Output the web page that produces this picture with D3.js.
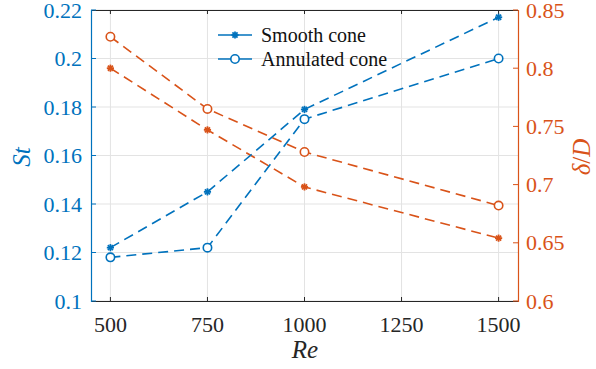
<!DOCTYPE html>
<html><head><meta charset="utf-8">
<script src="https://cdn.jsdelivr.net/npm/d3@7"></script>
<style>body{margin:0;background:#fff}svg{display:block}</style>
</head><body>
<div style="font-family:'Liberation Serif',serif">
<svg id="c" width="596" height="369"></svg>
</div>
<script>
const reValues = [500, 750, 1000, 1500];
const stSmooth = [0.122, 0.145, 0.179, 0.217];
const stAnnulated = [0.118, 0.122, 0.175, 0.200];
const dSmooth = [0.800, 0.747, 0.698, 0.654];
const dAnnulated = [0.827, 0.765, 0.728, 0.682];
const xTicks = [500, 750, 1000, 1250, 1500];
const stTicks = [0.1, 0.12, 0.14, 0.16, 0.18, 0.2, 0.22];
const dTicks = [0.6, 0.65, 0.7, 0.75, 0.8, 0.85];
const legendLabels = ["Smooth cone", "Annulated cone"];

const blue = "#0072BD", orange = "#D95319";
const svg = d3.select("#c");
const L = 91, R = 518, T = 10, B = 301;
const x = d3.scaleLinear().domain([450, 1550]).range([L, R]);
const yL = d3.scaleLinear().domain([0.1, 0.22]).range([B, T]);
const yR = d3.scaleLinear().domain([0.6, 0.85]).range([B, T]);

function txt(px, py, s, size, color, anchor, italic) {
  const t = svg.append("text").attr("x", px).attr("y", py)
    .attr("fill", color).attr("text-anchor", anchor)
    .attr("style", `font-family:'Liberation Serif','Times New Roman',Tinos,serif;font-size:${size}px` + (italic ? ";font-style:italic" : ""));
  t.text(s);
  return t;
}

// grid
svg.selectAll(".gx").data(xTicks).join("line")
  .attr("x1", d => x(d)).attr("x2", d => x(d)).attr("y1", T).attr("y2", B)
  .attr("stroke", "#e3e3e3").attr("stroke-width", 1);
svg.selectAll(".gy").data(stTicks).join("line")
  .attr("x1", L).attr("x2", R).attr("y1", d => yL(d)).attr("y2", d => yL(d))
  .attr("stroke", "#e3e3e3").attr("stroke-width", 1);

// frame top/bottom
svg.append("line").attr("x1", L).attr("x2", R).attr("y1", T + 0.5).attr("y2", T + 0.5).attr("stroke", "#262626");
svg.append("line").attr("x1", L).attr("x2", R).attr("y1", B + 0.5).attr("y2", B + 0.5).attr("stroke", "#262626");

// x axis ticks
xTicks.forEach(d => {
  svg.append("line").attr("x1", x(d)).attr("x2", x(d)).attr("y1", B).attr("y2", B - 4).attr("stroke", "#262626");
  svg.append("line").attr("x1", x(d)).attr("x2", x(d)).attr("y1", T).attr("y2", T + 4).attr("stroke", "#262626");
  txt(x(d), 332, String(d), 22, "#262626", "middle");
});

// left axis
svg.append("line").attr("x1", L + 0.5).attr("x2", L + 0.5).attr("y1", T).attr("y2", B + 1).attr("stroke", blue).attr("stroke-width", 1.2);
stTicks.forEach(d => {
  svg.append("line").attr("x1", L).attr("x2", L + 5).attr("y1", yL(d)).attr("y2", yL(d)).attr("stroke", blue);
  txt(82, yL(d) + 7.5, String(d), 22, blue, "end");
});

// right axis
svg.append("line").attr("x1", R + 0.5).attr("x2", R + 0.5).attr("y1", T).attr("y2", B + 1).attr("stroke", orange).attr("stroke-width", 1.2);
dTicks.forEach(d => {
  svg.append("line").attr("x1", R).attr("x2", R - 5).attr("y1", yR(d)).attr("y2", yR(d)).attr("stroke", orange);
  txt(526, yR(d) + 7.5, String(d), 22, orange, "start");
});

// axis labels
txt(0, 0, "St", 25, blue, "middle", true).attr("transform", "translate(30,157) rotate(-90)");
const dl = txt(0, 0, "", 25, orange, "middle").attr("transform", "translate(590,157) rotate(-90)");
dl.append("tspan").style("font-style", "italic").text("δ");
dl.append("tspan").text("/");
dl.append("tspan").style("font-style", "italic").text("D");
txt(305, 358, "Re", 25, "#262626", "middle", true);

// series
function star(sel, cx, cy, color) {
  const r = 3.6;
  for (let k = 0; k < 4; k++) {
    const a = k * Math.PI / 4;
    sel.append("line")
      .attr("x1", cx - r * Math.cos(a)).attr("y1", cy - r * Math.sin(a))
      .attr("x2", cx + r * Math.cos(a)).attr("y2", cy + r * Math.sin(a))
      .attr("stroke", color).attr("stroke-width", 1.8);
  }
}
function series(xs, ys, yScale, color, marker) {
  const line = d3.line().x((d, i) => x(xs[i])).y(d => yScale(d));
  svg.append("path").datum(ys).attr("d", line).attr("fill", "none")
    .attr("stroke", color).attr("stroke-width", 1.6).attr("stroke-dasharray", "10,6");
  const mg = svg.append("g");
  ys.forEach((v, i) => {
    if (marker === "star") star(mg, x(xs[i]), yScale(v), color);
    else mg.append("circle").attr("cx", x(xs[i])).attr("cy", yScale(v)).attr("r", 4.2)
      .attr("fill", "white").attr("stroke", color).attr("stroke-width", 1.6);
  });
}
series(reValues, dAnnulated, yR, orange, "circle");
series(reValues, dSmooth, yR, orange, "star");
series(reValues, stSmooth, yL, blue, "star");
series(reValues, stAnnulated, yL, blue, "circle");

// legend
const leg = svg.append("g");
legendLabels.forEach((lab, i) => {
  const yy = 35 + i * 24;
  leg.append("line").attr("x1", 218).attr("x2", 252).attr("y1", yy).attr("y2", yy)
    .attr("stroke", blue).attr("stroke-width", 1.6);
  if (i === 0) star(leg, 235, yy, blue);
  else leg.append("circle").attr("cx", 235).attr("cy", yy).attr("r", 4.2)
    .attr("fill", "white").attr("stroke", blue).attr("stroke-width", 1.6);
  txt(261, yy + 6.5, lab, 20, "#111", "start");
});
</script>
</body></html>
